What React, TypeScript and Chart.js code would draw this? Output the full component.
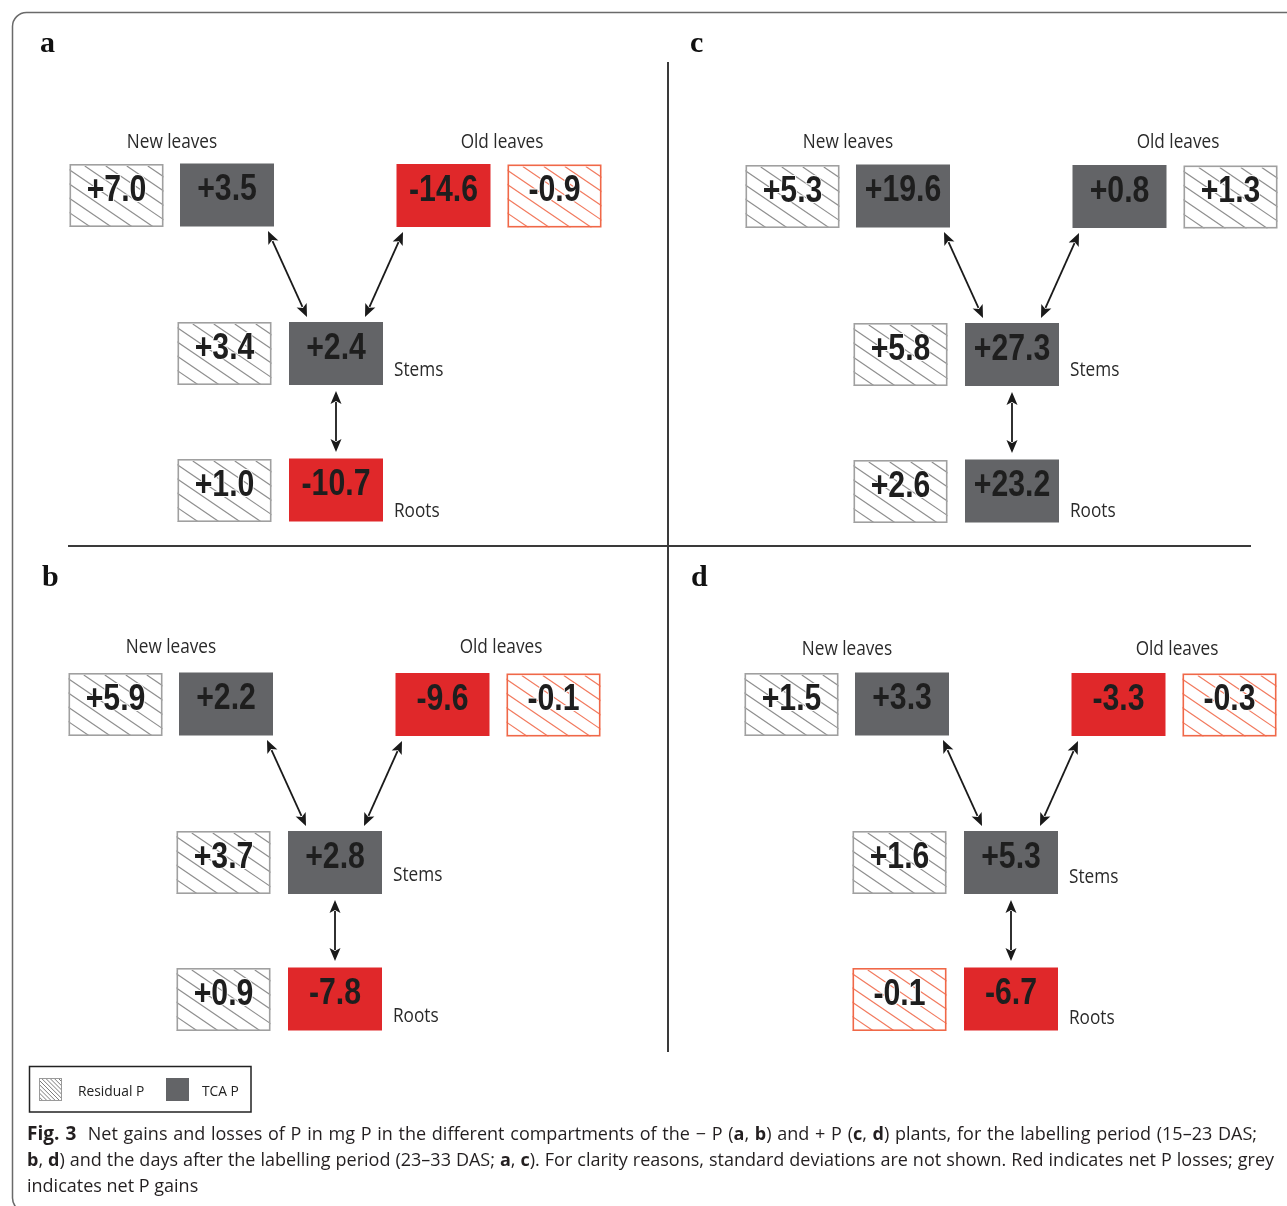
import React, { useEffect, useRef } from 'react';
import { Chart, registerables } from 'chart.js';

Chart.register(...registerables);

const W = 1287;
const H = 1206;

// ---- data (order: New leaves, Old leaves, Stems, Roots) ----
const panelLetters = ['a', 'b', 'c', 'd'];
const compartments = ['New leaves', 'Old leaves', 'Stems', 'Roots'];
const residualA = [7.0, -0.9, 3.4, 1.0];
const tcaA = [3.5, -14.6, 2.4, -10.7];
const residualB = [5.9, -0.1, 3.7, 0.9];
const tcaB = [2.2, -9.6, 2.8, -7.8];
const residualC = [5.3, 1.3, 5.8, 2.6];
const tcaC = [19.6, 0.8, 27.3, 23.2];
const residualD = [1.5, -0.3, 1.6, -0.1];
const tcaD = [3.3, -3.3, 5.3, -6.7];
const legendLabels = ['Residual P', 'TCA P'];

// ---- layout (diagram geometry, in scale units) ----
const PANEL_ORIGIN = [
  [0, 0],
  [-1, 509],
  [676, 1],
  [675, 509],
];
const LABEL_SHIFT = [0, -4, -1, -2];
const LETTER_POS = [
  [40, 52],
  [42, 586],
  [690, 52],
  [691, 586],
];
const RES_SLOT = [
  [116.5, 195.5],
  [554.5, 196],
  [224.5, 353.5],
  [224.5, 490.5],
];
const TCA_SLOT = [
  [227, 195],
  [443.5, 195.5],
  [336, 353.5],
  [336, 490],
];
const LABEL_POS: [number, number, CanvasTextAlign][] = [
  [172, 148, 'center'],
  [502, 148, 'center'],
  [394, 376, 'left'],
  [394, 517, 'left'],
];
const ARROWS = [
  [[268, 231], [307, 317]],
  [[403, 232], [365, 317]],
  [[336, 391], [336, 452]],
];
const BOX_W = 94;
const BOX_H = 63;

const NUM_FONT = 'bold 36px "Liberation Sans", Arial, sans-serif';
const LABEL_FONT = '20px "Open Sans", "Noto Sans", sans-serif';
const CAP_FONT = '18px "Open Sans", "Noto Sans", sans-serif';
const CAP_BOLD = 'bold 18px "Open Sans", "Noto Sans", sans-serif';
const FIG_BOLD = 'bold 19px "Open Sans", "Noto Sans", sans-serif';

const captionLines: [string, boolean][][] = [
  [
    ['Fig. 3', true],
    ['  Net gains and losses of P in mg P in the different compartments of the \u2212 P (', false],
    ['a', true],
    [', ', false],
    ['b', true],
    [') and + P (', false],
    ['c', true],
    [', ', false],
    ['d', true],
    [') plants, for the labelling period (15\u201323 DAS;', false],
  ],
  [
    ['b', true],
    [', ', false],
    ['d', true],
    [') and the days after the labelling period (23\u201333 DAS; ', false],
    ['a', true],
    [', ', false],
    ['c', true],
    ['). For clarity reasons, standard deviations are not shown. Red indicates net P losses; grey', false],
  ],
  [['indicates net P gains', false]],
];
const CAPTION_RIGHT = [1257, 1274, 0];

const residualSets = [residualA, residualB, residualC, residualD];
const tcaSets = [tcaA, tcaB, tcaC, tcaD];

type Pt = { x: number; y: number; v: number };

function buildPoints(sets: number[][], slots: number[][]): Pt[] {
  const out: Pt[] = [];
  sets.forEach((vals, p) => {
    vals.forEach((v, c) => {
      out.push({ x: PANEL_ORIGIN[p][0] + slots[c][0], y: PANEL_ORIGIN[p][1] + slots[c][1], v });
    });
  });
  return out;
}

const fmt = (v: number) => (v < 0 ? '-' : '+') + Math.abs(v).toFixed(1);

function hatch(ctx: CanvasRenderingContext2D, x: number, y: number, w: number, h: number, step: number, slope: number, color: string, lw: number) {
  ctx.save();
  ctx.beginPath();
  ctx.rect(x, y, w, h);
  ctx.clip();
  ctx.strokeStyle = color;
  ctx.lineWidth = lw;
  const run = h / slope;
  for (let k = -run; k < w + step; k += step) {
    ctx.beginPath();
    ctx.moveTo(x + k, y);
    ctx.lineTo(x + k + run, y + h);
    ctx.stroke();
  }
  ctx.restore();
}

function scaledText(ctx: CanvasRenderingContext2D, s: string, x: number, y: number, align: CanvasTextAlign, sx: number, halo = 0) {
  ctx.save();
  ctx.translate(x, y);
  ctx.scale(sx, 1);
  ctx.textAlign = align;
  if (halo > 0) {
    const fs = ctx.fillStyle;
    ctx.strokeStyle = '#ffffff';
    ctx.lineWidth = halo;
    ctx.lineJoin = 'round';
    ctx.strokeText(s, 0, 0);
    ctx.fillStyle = fs;
  }
  ctx.fillText(s, 0, 0);
  ctx.restore();
}

function drawBox(ctx: CanvasRenderingContext2D, cx: number, cy: number, v: number, hatched: boolean) {
  const neg = v < 0;
  const x = cx - BOX_W / 2;
  const y = cy - BOX_H / 2;
  if (hatched) {
    ctx.fillStyle = '#ffffff';
    ctx.fillRect(x, y, BOX_W, BOX_H);
    hatch(ctx, x, y + 2, BOX_W, BOX_H - 2, 21, 0.68, neg ? '#f27a5e' : '#8f8f8f', 1.2);
    ctx.strokeStyle = neg ? '#f06848' : '#a0a0a0';
    ctx.lineWidth = 1.6;
    ctx.strokeRect(x + 0.8, y + 0.8, BOX_W - 1.6, BOX_H - 1.6);
  } else {
    ctx.fillStyle = neg ? '#e0282a' : '#636467';
    ctx.fillRect(x, y, BOX_W, BOX_H);
  }
  ctx.font = NUM_FONT;
  ctx.textBaseline = 'alphabetic';
  ctx.fillStyle = '#1e1e1e';
  scaledText(ctx, fmt(v), cx, cy + 5, 'center', 0.84, hatched ? 2 : 0);
}

function drawArrow(ctx: CanvasRenderingContext2D, x1: number, y1: number, x2: number, y2: number) {
  const dx = x2 - x1;
  const dy = y2 - y1;
  const len = Math.hypot(dx, dy);
  const ux = dx / len;
  const uy = dy / len;
  const hl = 13;
  const hw = 5.5;
  ctx.strokeStyle = '#1a1a1a';
  ctx.fillStyle = '#1a1a1a';
  ctx.lineWidth = 1.8;
  ctx.beginPath();
  ctx.moveTo(x1 + ux * (hl - 2), y1 + uy * (hl - 2));
  ctx.lineTo(x2 - ux * (hl - 2), y2 - uy * (hl - 2));
  ctx.stroke();
  const head = (tx: number, ty: number, dirx: number, diry: number) => {
    const bx = tx - dirx * hl;
    const by = ty - diry * hl;
    ctx.beginPath();
    ctx.moveTo(tx, ty);
    ctx.lineTo(bx - diry * hw, by + dirx * hw);
    ctx.lineTo(bx + dirx * 3, by + diry * 3);
    ctx.lineTo(bx + diry * hw, by - dirx * hw);
    ctx.closePath();
    ctx.fill();
  };
  head(x2, y2, ux, uy);
  head(x1, y1, -ux, -uy);
}

function drawCaptionLine(ctx: CanvasRenderingContext2D, runs: [string, boolean][], li: number, x0: number, y: number, right: number) {
  const toks: { t: string; font: string; space: boolean }[] = [];
  runs.forEach(([t, b], ri) => {
    const font = b ? (li === 0 && ri === 0 ? FIG_BOLD : CAP_BOLD) : CAP_FONT;
    t.split(/( )/).forEach((part) => {
      if (part === '') return;
      toks.push({ t: part, font, space: part === ' ' });
    });
  });
  let natural = 0;
  let spaces = 0;
  toks.forEach((k) => {
    ctx.font = k.font;
    natural += ctx.measureText(k.t).width;
    if (k.space) spaces++;
  });
  const extra = right > 0 && spaces > 0 ? (right - x0 - natural) / spaces : 0;
  let x = x0;
  toks.forEach((k) => {
    ctx.font = k.font;
    if (!k.space) ctx.fillText(k.t, x, y);
    x += ctx.measureText(k.t).width + (k.space ? extra : 0);
  });
}

const diagramPlugin = {
  id: 'diagram',
  beforeDatasetsDraw(chart: any) {
    const ctx: CanvasRenderingContext2D = chart.ctx;
    const xs = chart.scales.x;
    const ys = chart.scales.y;
    const px = (v: number) => xs.getPixelForValue(v);
    const py = (v: number) => ys.getPixelForValue(v);
    ctx.save();
    ctx.fillStyle = '#ffffff';
    ctx.fillRect(0, 0, chart.width, chart.height);

    // outer rounded frame
    ctx.strokeStyle = '#6a6a6a';
    ctx.lineWidth = 1.5;
    ctx.beginPath();
    ctx.roundRect(px(12.5), py(12.5), px(1320) - px(12.5), py(1212) - py(12.5), 14);
    ctx.stroke();

    // dividers
    ctx.strokeStyle = '#3a3a3a';
    ctx.lineWidth = 2;
    ctx.beginPath();
    ctx.moveTo(px(668), py(62));
    ctx.lineTo(px(668), py(1052));
    ctx.moveTo(px(68), py(546));
    ctx.lineTo(px(1251), py(546));
    ctx.stroke();

    // panel letters
    ctx.fillStyle = '#111111';
    ctx.font = 'bold 30px "Liberation Serif", "DejaVu Serif", serif';
    ctx.textAlign = 'left';
    ctx.textBaseline = 'alphabetic';
    panelLetters.forEach((l, i) => ctx.fillText(l, px(LETTER_POS[i][0]), py(LETTER_POS[i][1])));

    // compartment labels + arrows
    panelLetters.forEach((_, p) => {
      const [ox, oy] = PANEL_ORIGIN[p];
      ctx.fillStyle = '#2a2a2a';
      ctx.font = LABEL_FONT;
      compartments.forEach((c, i) => {
        const [lx, ly, al] = LABEL_POS[i];
        scaledText(ctx, c, px(ox + lx), py(oy + ly + LABEL_SHIFT[p]), al, 0.86);
      });
      ARROWS.forEach(([a, b]) => drawArrow(ctx, px(ox + a[0]), py(oy + a[1]), px(ox + b[0]), py(oy + b[1])));
    });

    // legend
    ctx.strokeStyle = '#222222';
    ctx.lineWidth = 1.5;
    ctx.strokeRect(px(29.5), py(1066.5), px(251) - px(29.5), py(1112) - py(1066.5));
    ctx.fillStyle = '#ffffff';
    ctx.fillRect(px(39), py(1078), 23, 23);
    hatch(ctx, px(39), py(1078), 23, 23, 4.2, 1, '#7a7a7a', 1);
    ctx.strokeStyle = '#9a9a9a';
    ctx.lineWidth = 1;
    ctx.strokeRect(px(39.5), py(1078.5), 22, 22);
    ctx.fillStyle = '#636467';
    ctx.fillRect(px(166), py(1078), 23, 23);
    ctx.fillStyle = '#222222';
    ctx.font = '15px "Open Sans", "Noto Sans", sans-serif';
    ctx.textAlign = 'left';
    scaledText(ctx, legendLabels[0], px(78), py(1096), 'left', 0.92);
    scaledText(ctx, legendLabels[1], px(202), py(1096), 'left', 0.92);

    // caption
    const baselines = [1140, 1166, 1192];
    ctx.fillStyle = '#231f20';
    ctx.textAlign = 'left';
    captionLines.forEach((runs, li) => {
      drawCaptionLine(ctx, runs, li, px(27), py(baselines[li]), CAPTION_RIGHT[li] ? px(CAPTION_RIGHT[li]) : 0);
    });
    ctx.restore();
  },
  afterDatasetsDraw(chart: any) {
    const ctx: CanvasRenderingContext2D = chart.ctx;
    ctx.save();
    chart.data.datasets.forEach((ds: any, di: number) => {
      const meta = chart.getDatasetMeta(di);
      meta.data.forEach((el: any, j: number) => {
        drawBox(ctx, el.x, el.y, ds.data[j].v, di === 0);
      });
    });
    ctx.restore();
  },
};

export default function App() {
  const ref = useRef<HTMLCanvasElement | null>(null);
  useEffect(() => {
    if (!ref.current) return;
    const chart = new Chart(ref.current, {
      type: 'scatter',
      data: {
        datasets: [
          { label: legendLabels[0], data: buildPoints(residualSets, RES_SLOT), pointRadius: 0, pointHoverRadius: 0 },
          { label: legendLabels[1], data: buildPoints(tcaSets, TCA_SLOT), pointRadius: 0, pointHoverRadius: 0 },
        ],
      },
      options: {
        animation: false,
        responsive: false,
        events: [],
        layout: { padding: 0 },
        plugins: { legend: { display: false }, tooltip: { enabled: false } },
        scales: {
          x: { type: 'linear', min: 0, max: W, display: false },
          y: { type: 'linear', min: 0, max: H, reverse: true, display: false },
        },
      },
      plugins: [diagramPlugin],
    } as any);
    return () => chart.destroy();
  }, []);
  return (
    <canvas
      ref={ref}
      width={W}
      height={H}
      style={{ position: 'absolute', left: 0, top: 0, width: W, height: H, display: 'block' }}
    />
  );
}
